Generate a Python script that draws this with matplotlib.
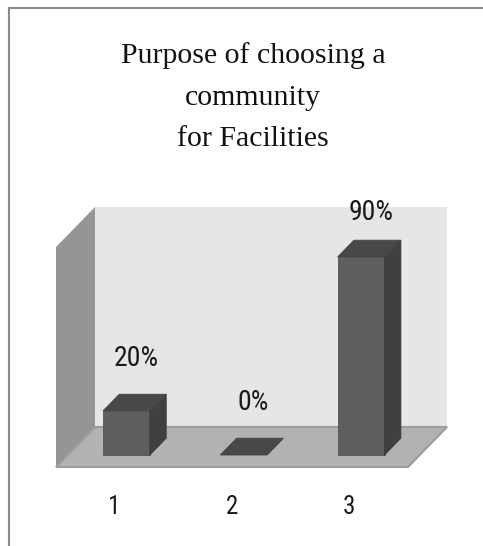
import matplotlib
matplotlib.use("Agg")
import matplotlib.pyplot as plt
import numpy as np
from matplotlib.patches import Polygon
from matplotlib.lines import Line2D

# survey results
categories = ["1", "2", "3"]
values = [20, 0, 90]
value_labels = ["20%", "0%", "90%"]
title = "Purpose of choosing a\ncommunity\nfor Facilities"

W, H, DPI = 483, 546, 100
fig = plt.figure(figsize=(W / DPI, H / DPI), dpi=DPI)
fig.patch.set_facecolor("white")

# back plane of the 3d box, in pixels
left, right, top, bottom = 95, 447, 207, 427
ax = fig.add_axes([left / W, 1 - bottom / H, (right - left) / W, (bottom - top) / H])
ax.set_xlim(0.5, len(categories) + 0.5)
ax.set_ylim(0, 100)
ax.axis("off")

# depth of the box in pixels (towards the viewer: left and down)
DX, DY = -39, -40
bar_w = 0.4
d_back, d_front = 0.28, 0.70

sans = ["Roboto Condensed", "Lato", "DejaVu Sans"]


def pt(x, y, d):
    px, py = ax.transData.transform((x, y))
    return (px + DX * d, py + DY * d)


def face(points, color, z, ec=None, lw=0):
    poly = Polygon([pt(*p) for p in points], closed=True, transform=None,
                   facecolor=color, edgecolor=ec or color, linewidth=lw,
                   zorder=z)
    fig.patches.append(poly)


x0, x1 = ax.get_xlim()
# walls and floor
face([(x0, 0, 0), (x1, 0, 0), (x1, 100, 0), (x0, 100, 0)], "#e6e6e6", 1)
face([(x0, 0, 0), (x0, 100, 0), (x0, 100, 1), (x0, 0, 1)], "#959595", 1)
face([(x0, 0, 0), (x1, 0, 0), (x1, 0, 1), (x0, 0, 1)], "#b2b2b2", 2,
     ec="#9c9c9c", lw=1.5)

# bars
for i, v in enumerate(values):
    c = i + 1
    a, b = c - bar_w / 2, c + bar_w / 2
    if v > 0:
        face([(a, 0, d_front), (b, 0, d_front), (b, v, d_front), (a, v, d_front)],
             "#5f5f5f", 3, ec="#555555", lw=0.6)
        face([(b, 0, d_front), (b, 0, d_back), (b, v, d_back), (b, v, d_front)],
             "#404040", 3, ec="#3a3a3a", lw=0.6)
    face([(a, v, d_front), (b, v, d_front), (b, v, d_back), (a, v, d_back)],
         "#484848", 3, ec="#444444", lw=0.6)

    # value label above the bar
    lx, ly = pt(c, v, 0.45)
    fig.text(lx / W, min(ly + 43, 334) / H, value_labels[i], ha="center",
             va="center", fontsize=20, family=sans, color="#1a1a1a")

    # category label in front of the floor
    cx, cy = pt(c, 0, 1.0)
    fig.text(cx / W, (cy - 40) / H, categories[i], ha="center", va="center",
             fontsize=18, family=sans, color="#1a1a1a")

fig.text(253 / W, 1 - 42 / H, title, ha="center", va="top", fontsize=21.5,
         family="Liberation Serif", linespacing=1.78, color="#111111")

# outer frame (top and left edges)
fig.add_artist(Line2D([9 / W, 1], [1 - 7.5 / H, 1 - 7.5 / H], color="#8a8a8a",
                      lw=1.5, transform=fig.transFigure))
fig.add_artist(Line2D([9 / W, 9 / W], [0, 1 - 7.5 / H], color="#8a8a8a",
                      lw=1.5, transform=fig.transFigure))

fig.savefig("out.png", dpi=DPI)
